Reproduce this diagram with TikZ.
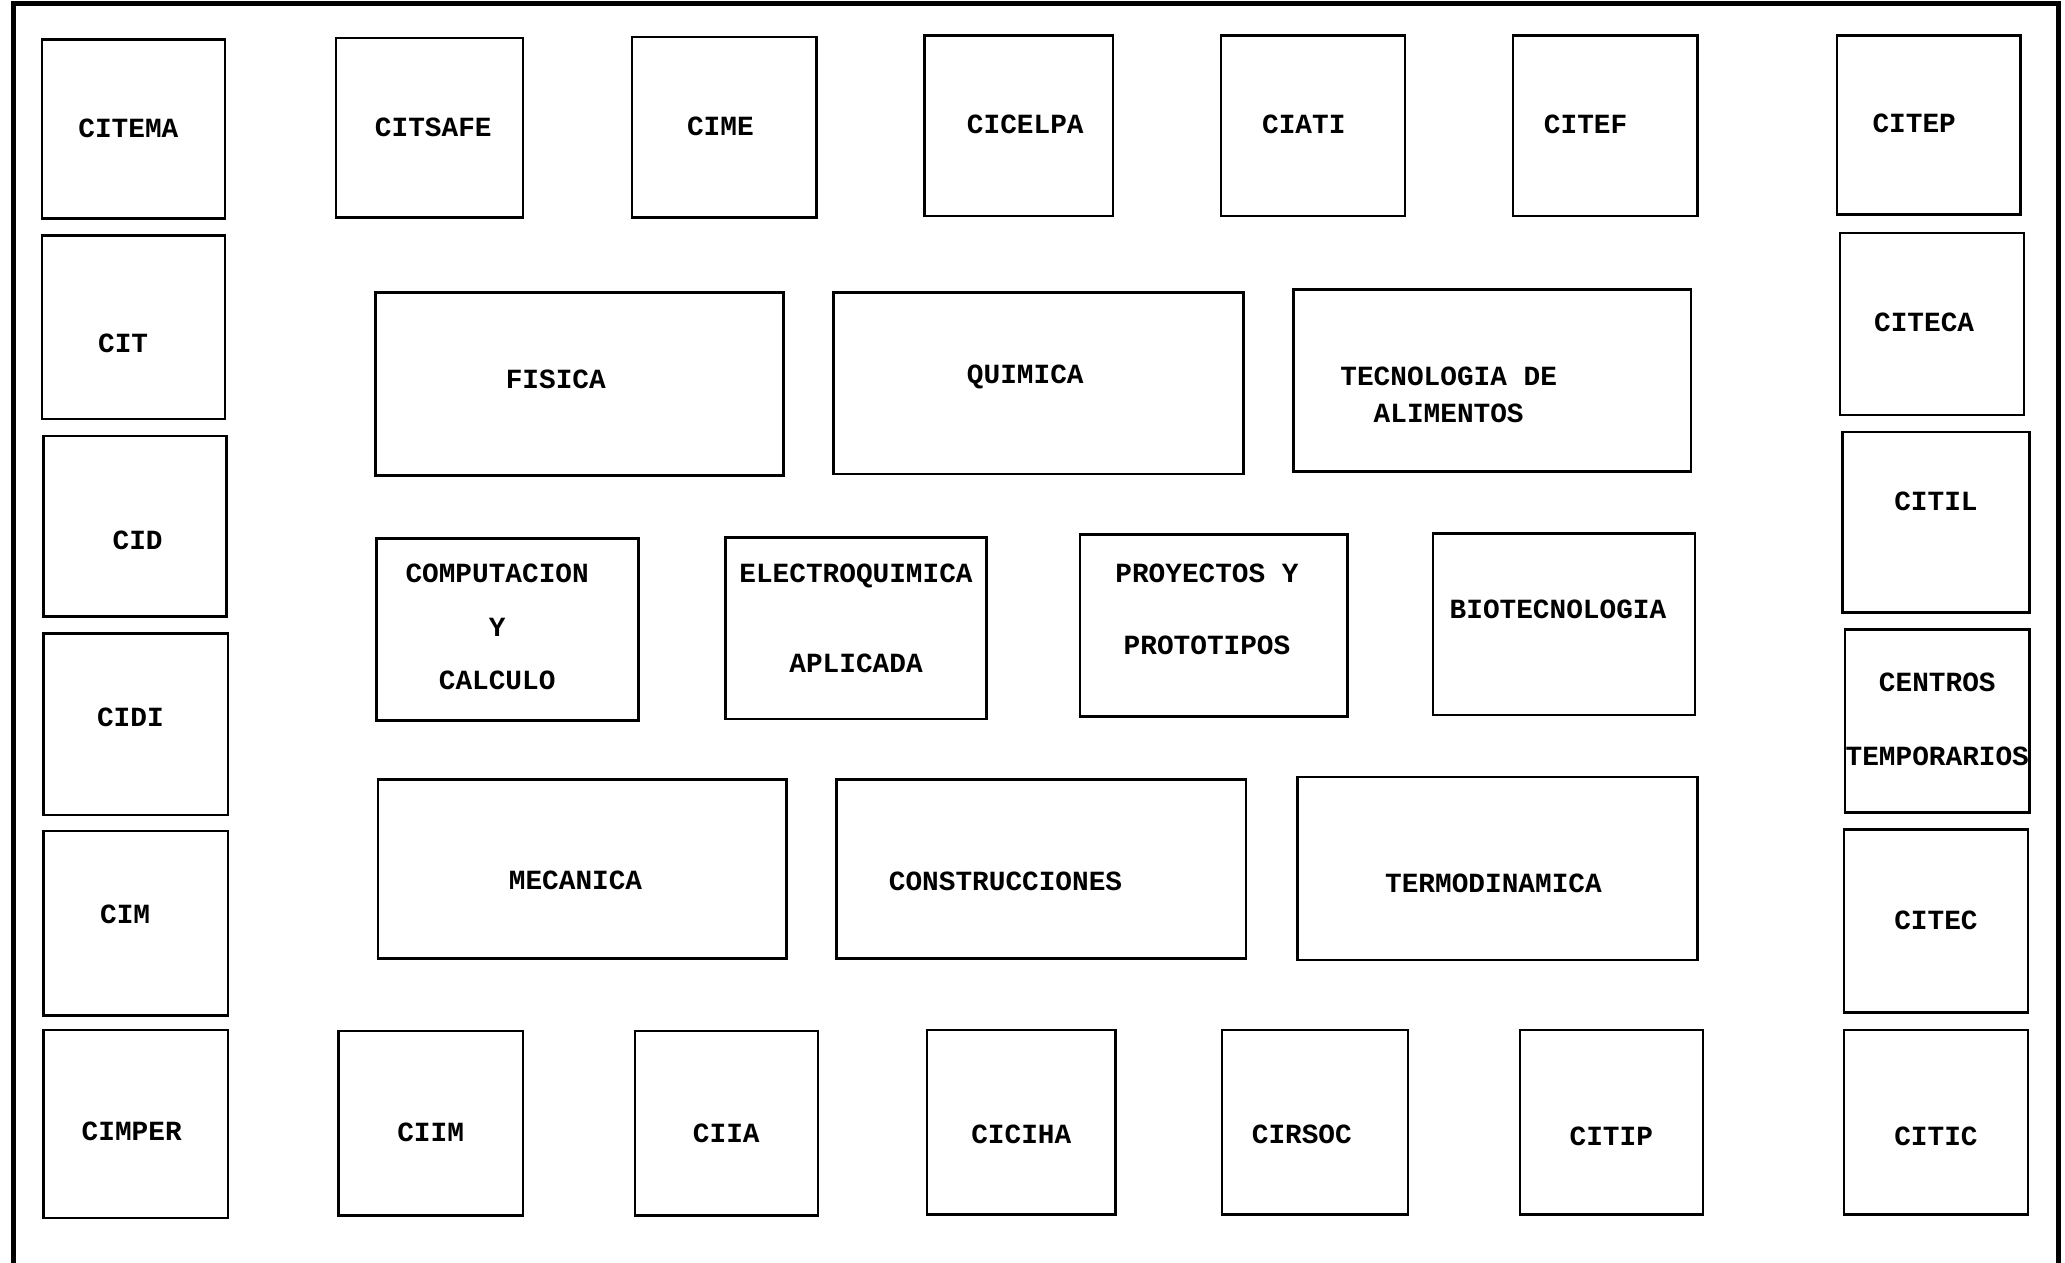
\documentclass[tikz,border=0pt]{standalone}
\usepackage{fontspec}
\setmonofont{Liberation Mono}
\usetikzlibrary{fit}
\begin{document}
\begin{tikzpicture}[
    x=0.02cm, y=-0.02cm,
    every node/.style={font=\ttfamily\bfseries\fontsize{12}{14}\selectfont},
    box/.style={draw=black, line width=1.1pt, inner sep=0pt},
    tag/.style={align=center, text=black, inner sep=0pt, yshift=0.15cm},
    frame/.style={draw=black, line width=2.2pt},
]
\useasboundingbox (0,0) rectangle (1568,959);
% outer frame
\draw[frame] (10,966) -- (10,3) -- (1563,3) -- (1563,966);
% top row
\node[box, fit={(32,30) (171,166)}, label={[tag, name=citema_t, xshift=-0.08cm, yshift=-0.14cm]center:CITEMA}] (citema) {};
\node[box, fit={(255,29) (397,165)}, label={[tag, name=citsafe_t, xshift=0.06cm, yshift=-0.14cm]center:CITSAFE}] (citsafe) {};
\node[box, fit={(480,28) (620,165)}, label={[tag, name=cime_t, xshift=-0.06cm, yshift=-0.14cm]center:CIME}] (cime) {};
\node[box, fit={(702,27) (845,164)}, label={[tag, name=cicelpa_t, xshift=0.10cm, yshift=-0.13cm]center:CICELPA}] (cicelpa) {};
\node[box, fit={(927,27) (1067,164)}, label={[tag, name=ciati_t, xshift=-0.14cm, yshift=-0.13cm]center:CIATI}] (ciati) {};
\node[box, fit={(1149,27) (1289,164)}, label={[tag, name=citef_t, xshift=-0.30cm, yshift=-0.13cm]center:CITEF}] (citef) {};
\node[box, fit={(1395,27) (1534,163)}, label={[tag, name=citep_t, xshift=-0.22cm, yshift=-0.12cm]center:CITEP}] (citep) {};
% left column
\node[box, fit={(32,179) (171,318)}, label={[tag, name=cit_t, xshift=-0.16cm, yshift=-0.40cm]center:CIT}] (cit) {};
\node[box, fit={(33,331) (172,468)}, label={[tag, name=cid_t, xshift=0.04cm, yshift=-0.36cm]center:CID}] (cid) {};
\node[box, fit={(33,481) (173,619)}, label={[tag, name=cidi_t, xshift=-0.08cm, yshift=-0.04cm]center:CIDI}] (cidi) {};
\node[box, fit={(33,631) (173,771)}, label={[tag, name=cim_t, xshift=-0.16cm, yshift=-0.02cm]center:CIM}] (cim) {};
% bottom row
\node[box, fit={(33,782) (173,925)}, label={[tag, name=cimper_t, xshift=-0.06cm, yshift=-0.26cm]center:CIMPER}] (cimper) {};
\node[box, fit={(257,783) (397,923)}, label={[tag, name=ciim_t, yshift=-0.28cm]center:CIIM}] (ciim) {};
\node[box, fit={(482,783) (621,923)}, label={[tag, name=ciia_t, yshift=-0.30cm]center:CIIA}] (ciia) {};
\node[box, fit={(704,782) (847,922)}, label={[tag, name=ciciha_t, yshift=-0.34cm]center:CICIHA}] (ciciha) {};
\node[box, fit={(928,782) (1069,922)}, label={[tag, name=cirsoc_t, xshift=-0.20cm, yshift=-0.34cm]center:CIRSOC}] (cirsoc) {};
\node[box, fit={(1154,782) (1293,922)}, label={[tag, name=citip_t, yshift=-0.36cm]center:CITIP}] (citip) {};
\node[box, fit={(1400,782) (1540,922)}, label={[tag, name=citic_t, yshift=-0.36cm]center:CITIC}] (citic) {};
% right column
\node[box, fit={(1397,177) (1537,315)}, label={[tag, name=citeca_t, xshift=-0.12cm, yshift=-0.12cm]center:CITECA}] (citeca) {};
\node[box, fit={(1399,328) (1541,465)}, label={[tag, name=citil_t, yshift=0.16cm]center:CITIL}] (citil) {};
\node[box, fit={(1401,478) (1541,617)}, label={[tag, name=centros_t, yshift=-0.12cm]center:{CENTROS\\[18pt]TEMPORARIOS}}] (centros) {};
\node[box, fit={(1400,630) (1540,769)}, label={[tag, name=citec_t, yshift=-0.13cm]center:CITEC}] (citec) {};
% departments
\node[box, fit={(285,222) (595,361)}, label={[tag, name=fisica_t, xshift=-0.36cm, yshift=-0.08cm]center:FISICA}] (fisica) {};
\node[box, fit={(633,222) (944,360)}, label={[tag, name=quimica_t, xshift=-0.20cm, yshift=-0.06cm]center:QUIMICA}] (quimica) {};
\node[box, fit={(982,220) (1284,358)}, label={[tag, name=alimentos_t, xshift=-0.66cm, yshift=-0.36cm]center:{TECNOLOGIA DE\\[2pt]ALIMENTOS}}] (alimentos) {};
\node[box, fit={(286,409) (485,547)}, label={[tag, name=computacion_t, xshift=-0.16cm, yshift=-0.11cm]center:{COMPUTACION\\[9pt]Y\\[9pt]CALCULO}}] (computacion) {};
\node[box, fit={(551,408) (749,546)}, label={[tag, name=electroquimica_t]center:{ELECTROQUIMICA\\[25pt]APLICADA}}] (electroquimica) {};
\node[box, fit={(820,406) (1023,544)}, label={[tag, name=proyectos_t, xshift=-0.10cm, yshift=0.10cm]center:{PROYECTOS Y\\[17pt]PROTOTIPOS}}] (proyectos) {};
\node[box, fit={(1088,405) (1287,543)}, label={[tag, name=biotecnologia_t, xshift=-0.09cm, yshift=0.08cm]center:BIOTECNOLOGIA}] (biotecnologia) {};
\node[box, fit={(287,592) (597,728)}, label={[tag, name=mecanica_t, xshift=-0.10cm, yshift=-0.32cm]center:MECANICA}] (mecanica) {};
\node[box, fit={(635,592) (946,728)}, label={[tag, name=construcciones_t, xshift=-0.54cm, yshift=-0.34cm]center:CONSTRUCCIONES}] (construcciones) {};
\node[box, fit={(985,590) (1289,729)}, label={[tag, name=termodinamica_t, xshift=-0.06cm, yshift=-0.37cm]center:TERMODINAMICA}] (termodinamica) {};
\end{tikzpicture}
\end{document}
